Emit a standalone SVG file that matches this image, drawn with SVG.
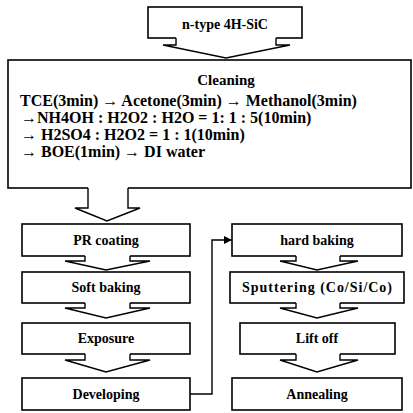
<svg xmlns="http://www.w3.org/2000/svg" width="413" height="413" viewBox="0 0 413 413">
<style>
.box{fill:#fff;stroke:#000;stroke-width:1.6}
.arr{fill:#fff;stroke:none}
.arl{fill:none;stroke:#000;stroke-width:1.4;stroke-linejoin:miter}
.t{font-family:"Liberation Serif","Times New Roman",serif;font-weight:bold;font-size:14px;fill:#000}
.cl{font-size:15px}
.ln{font-size:16px}
.c{text-anchor:middle}
</style>
<defs>
<marker id="ah" markerWidth="8" markerHeight="8" refX="7" refY="4" orient="auto" markerUnits="userSpaceOnUse">
<path d="M0,0 L8,4 L0,8 Z" fill="#000"/>
</marker>
</defs>
<rect width="413" height="413" fill="#fff"/>

<g id="n-type">
<rect class="box" x="148" y="7" width="154" height="31"/>
<text class="t c" x="225" y="29">n-type 4H-SiC</text>
</g>

<g id="cleaning">
<rect class="box" x="8" y="60" width="403" height="128"/>
<text class="t cl c" x="226" y="85">Cleaning</text>
<text class="t ln" x="20" y="106">TCE(3min) → Acetone(3min) → Methanol(3min)</text>
<text class="t ln" x="21" y="123">→NH4OH : H2O2 : H2O = 1: 1 : 5(10min)</text>
<text class="t ln" x="21" y="140">→ H2SO4 : H2O2 = 1 : 1(10min)</text>
<text class="t ln" x="21" y="157">→ BOE(1min) → DI water</text>
</g>

<g id="pr-coating">
<rect class="box" x="22" y="224" width="168" height="32"/>
<text class="t c" x="106" y="245">PR coating</text>
</g>
<g id="soft-baking">
<rect class="box" x="22" y="272" width="168" height="31"/>
<text class="t c" x="106" y="292">Soft baking</text>
</g>
<g id="exposure">
<rect class="box" x="22" y="323" width="168" height="31"/>
<text class="t c" x="106" y="343">Exposure</text>
</g>
<g id="developing">
<rect class="box" x="22" y="378" width="168" height="32"/>
<text class="t c" x="106" y="399">Developing</text>
</g>

<g id="hard-baking">
<rect class="box" x="232" y="224" width="170" height="32"/>
<text class="t c" x="317" y="245">hard baking</text>
</g>
<g id="sputtering">
<rect class="box" x="230" y="272" width="174" height="31"/>
<text class="t c" x="317" y="292" textLength="150" lengthAdjust="spacing">Sputtering (Co/Si/Co)</text>
</g>
<g id="lift-off">
<rect class="box" x="240" y="323" width="155" height="31"/>
<text class="t c" x="317" y="343">Lift off</text>
</g>
<g id="annealing">
<rect class="box" x="232" y="378" width="170" height="32"/>
<text class="t c" x="317" y="399">Annealing</text>
</g>

<g id="connectors">
<polygon class="arr" points="176,36 176,45 163,45 226,58 290,45 276,45 276,36"/>
<polyline class="arl" points="176,38 176,45 163,45 226,58 290,45 276,45 276,38"/>
<polygon class="arr" points="88,186 88,208 75,208 107,221 140,208 128,208 128,186"/>
<polyline class="arl" points="88,188 88,208 75,208 107,221 140,208 128,208 128,188"/>
<polygon class="arr" points="85,254 85,261 65,261 106,270 150,261 130,261 130,254"/>
<polyline class="arl" points="85,256 85,261 65,261 106,270 150,261 130,261 130,256"/>
<polygon class="arr" points="85,301 85,308 65,308 106,318 150,308 130,308 130,301"/>
<polyline class="arl" points="85,303 85,308 65,308 106,318 150,308 130,308 130,303"/>
<polygon class="arr" points="85,352 85,360 65,360 106,372 150,360 130,360 130,352"/>
<polyline class="arl" points="85,354 85,360 65,360 106,372 150,360 130,360 130,354"/>
<polygon class="arr" points="296,254 296,261 280,261 317,270 358,261 340,261 340,254"/>
<polyline class="arl" points="296,256 296,261 280,261 317,270 358,261 340,261 340,256"/>
<polygon class="arr" points="296,301 296,308 280,308 317,318 358,308 340,308 340,301"/>
<polyline class="arl" points="296,303 296,308 280,308 317,318 358,308 340,308 340,303"/>
<polygon class="arr" points="296,352 296,360 280,360 317,372 358,360 340,360 340,352"/>
<polyline class="arl" points="296,354 296,360 280,360 317,372 358,360 340,360 340,354"/>
<path d="M190,394 H212 V240 H231" fill="none" stroke="#000" stroke-width="1.4" marker-end="url(#ah)"/>
</g>
</svg>
